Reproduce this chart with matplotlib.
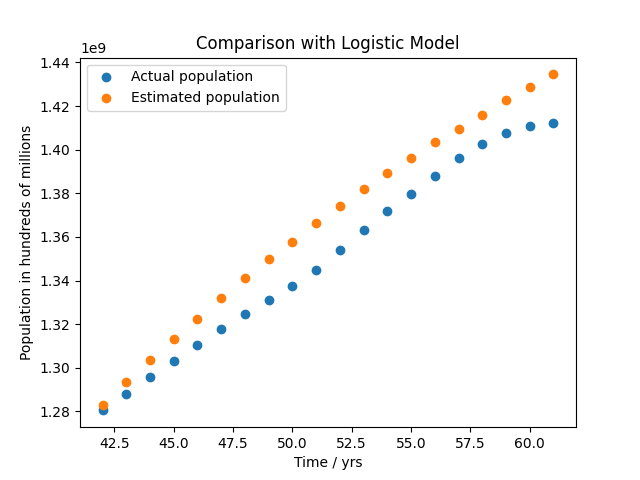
import matplotlib
matplotlib.use("Agg")
import matplotlib.pyplot as plt

years = list(range(42, 62))
actual = [1.2805, 1.2882, 1.2960, 1.3033, 1.3107, 1.3176, 1.3245, 1.3309, 1.3373, 1.3447,
          1.3539, 1.3630, 1.3718, 1.3796, 1.3879, 1.3961, 1.4025, 1.4075, 1.4107, 1.4121]
estimated = [1.2828, 1.2933, 1.3034, 1.3130, 1.3226, 1.3318, 1.3410, 1.3497, 1.3579, 1.3662,
             1.3740, 1.3818, 1.3891, 1.3960, 1.4033, 1.4097, 1.4161, 1.4226, 1.4285, 1.4345]

plt.figure(figsize=(6.4, 4.8), dpi=100)
plt.scatter(years, [v * 1e9 for v in actual], label='Actual population')
plt.scatter(years, [v * 1e9 for v in estimated], label='Estimated population')
plt.title('Comparison with Logistic Model')
plt.xlabel('Time / yrs')
plt.ylabel('Population in hundreds of millions')
plt.legend(loc='upper left')
plt.savefig('out.png')
